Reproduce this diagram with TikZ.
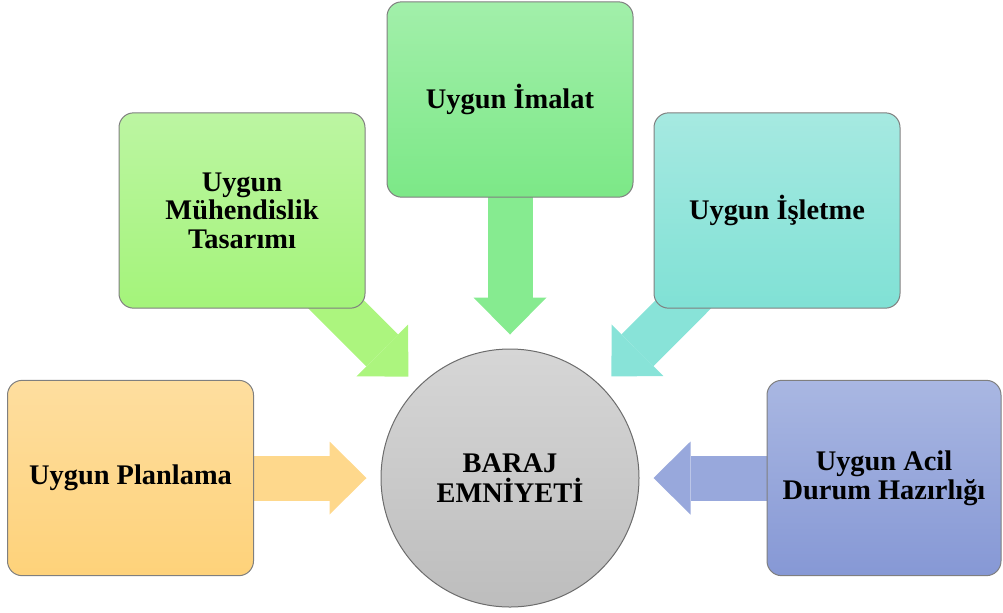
\documentclass[tikz,border=0pt]{standalone}
\usepackage{fontspec}
\setmainfont{Liberation Serif}
\usepackage{xcolor}
\usetikzlibrary{arrows.meta,backgrounds}

\definecolor{boxLine}{HTML}{7F7F7F}
\definecolor{planTop}{HTML}{FEDE9F}
\definecolor{planBot}{HTML}{FED27A}
\definecolor{planArrow}{HTML}{FED88C}
\definecolor{engTop}{HTML}{BCF5A2}
\definecolor{engBot}{HTML}{A4F47A}
\definecolor{engArrow}{HTML}{ACF57E}
\definecolor{mfgTop}{HTML}{A2EFAA}
\definecolor{mfgBot}{HTML}{7CE887}
\definecolor{mfgArrow}{HTML}{86EB90}
\definecolor{opsTop}{HTML}{A6E9E1}
\definecolor{opsBot}{HTML}{80E1D5}
\definecolor{opsArrow}{HTML}{88E3D8}
\definecolor{emgTop}{HTML}{A9B7E2}
\definecolor{emgBot}{HTML}{8698D5}
\definecolor{emgArrow}{HTML}{98A8DC}
\definecolor{damTop}{HTML}{D6D6D6}
\definecolor{damBot}{HTML}{BDBDBD}

\begin{document}
\begin{tikzpicture}[x=0.75pt, y=-0.75pt,
        box/.style={draw=boxLine, line width=0.75pt, rounded corners=11pt,
            minimum width=184.5pt, minimum height=146.5pt, inner sep=0pt,
            align=center, font=\fontsize{21.3}{21.5}\selectfont\bfseries},
        bigarrow/.style={line width=33.75pt, shorten >=10.5pt,
            -{Triangle[length=27.75pt, width=54.75pt, line width=0pt]}}]

        \useasboundingbox (0,0) rectangle (1003,612);

        % ---------- Centre ----------
        \node[circle, draw=boxLine!85!black, line width=0.75pt, minimum size=193.5pt,
            top color=damTop, bottom color=damBot, align=center,
            font=\fontsize{21.3}{22.5}\selectfont\bfseries] (safety) at (510,478) {BARAJ\\EMNİYETİ};

        % ---------- Boxes ----------
        \node[box, top color=planTop, bottom color=planBot] (plan) at (130.5,478) {Uygun Planlama};
        \node[box, top color=engTop, bottom color=engBot] (eng) at (242,210.5) {Uygun\\Mühendislik\\Tasarımı};
        \node[box, top color=mfgTop, bottom color=mfgBot] (mfg) at (510,99.5) {Uygun İmalat};
        \node[box, top color=opsTop, bottom color=opsBot] (ops) at (777,210.5) {Uygun İşletme};
        \node[box, minimum width=175.5pt, top color=emgTop, bottom color=emgBot] (emerg) at (884,478) {Uygun Acil\\Durum Hazırlığı};

        % ---------- Arrows into the centre ----------
        \begin{scope}[on background layer]
            \draw[bigarrow, planArrow] (plan.center) -- (safety);
            \draw[bigarrow, engArrow] (eng.center) -- (safety);
            \draw[bigarrow, mfgArrow] (mfg.center) -- (safety);
            \draw[bigarrow, opsArrow] (ops.center) -- (safety);
            \draw[bigarrow, emgArrow] (emerg.center) -- (safety);
        \end{scope}

\end{tikzpicture}
\end{document}
